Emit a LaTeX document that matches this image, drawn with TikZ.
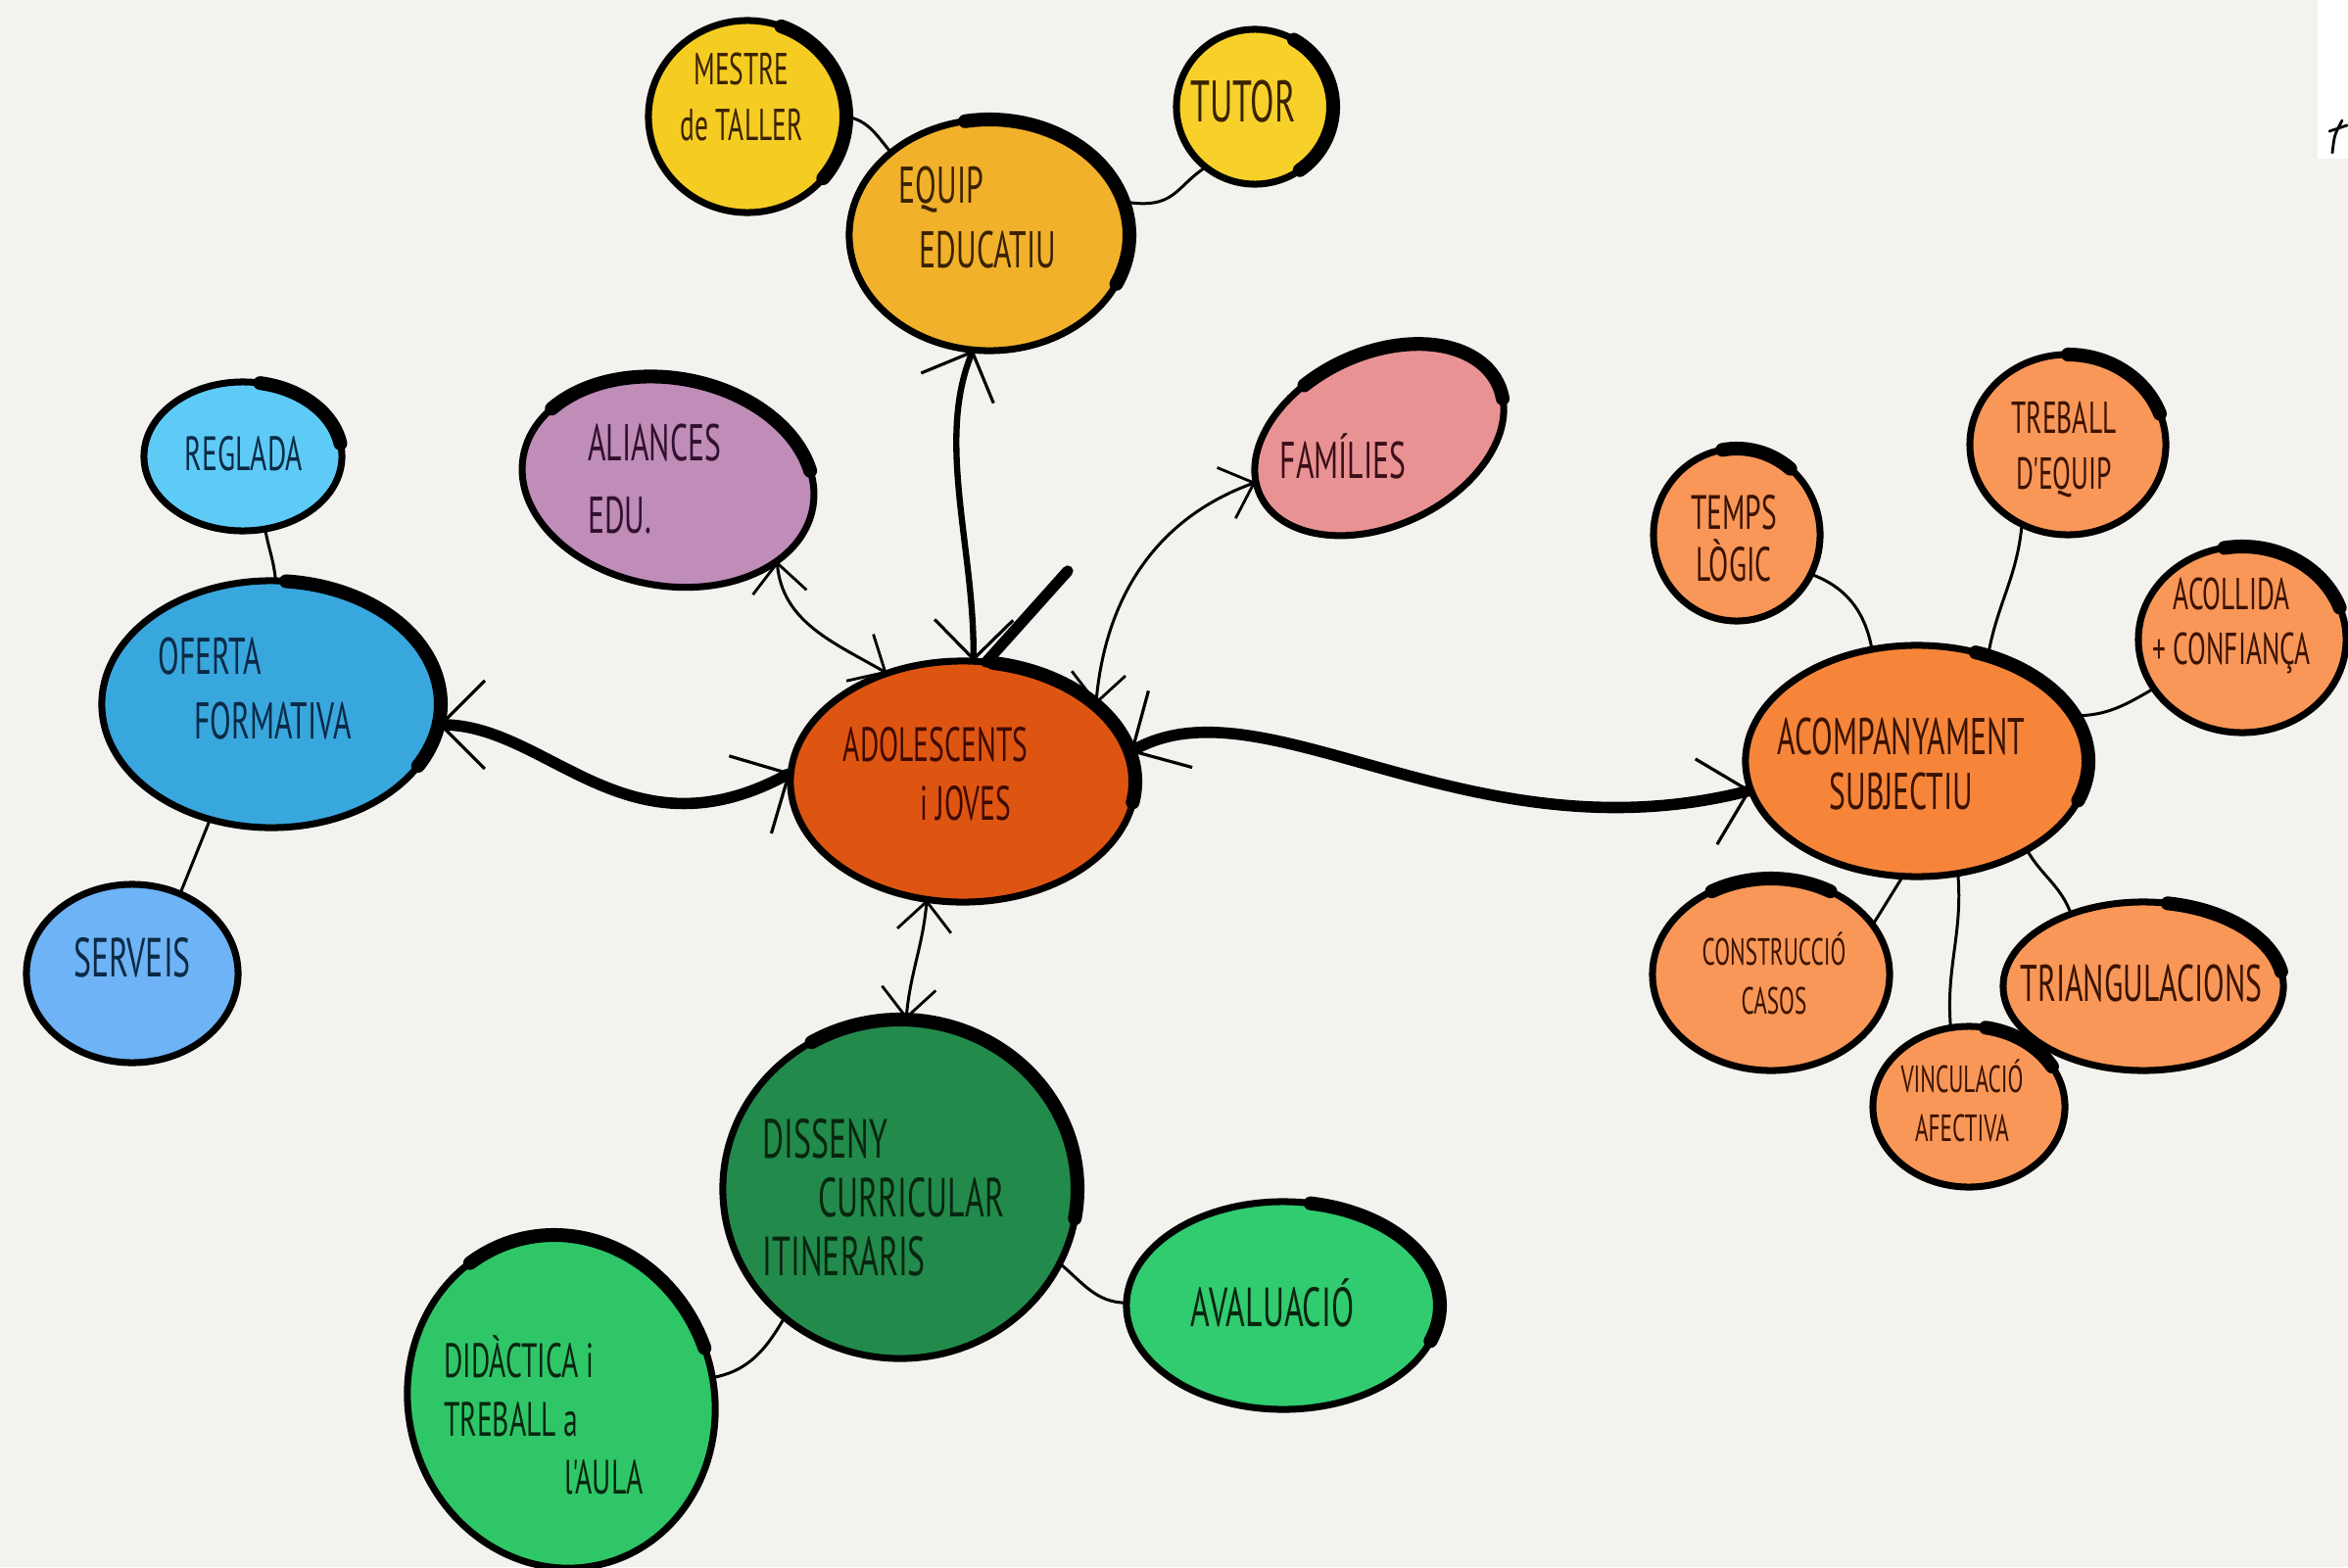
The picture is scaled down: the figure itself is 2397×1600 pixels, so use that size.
\documentclass[tikz,border=0pt]{standalone}
\usepackage{fontspec}
\newfontfamily\hand[FakeStretch=0.6]{PT Sans}
\usetikzlibrary{arrows.meta,shapes.geometric}
\definecolor{bg}{HTML}{F3F2EE}
\definecolor{cMestre}{HTML}{F5CC22}
\definecolor{cEquip}{HTML}{F2B12B}
\definecolor{cTutor}{HTML}{F7D12A}
\definecolor{cAlian}{HTML}{C08CB8}
\definecolor{cFam}{HTML}{E99294}
\definecolor{cRegl}{HTML}{5ECBF7}
\definecolor{cOfer}{HTML}{38A7DE}
\definecolor{cServ}{HTML}{6DB3F5}
\definecolor{cAdol}{HTML}{DE5512}
\definecolor{cDiss}{HTML}{228A4B}
\definecolor{cDidac}{HTML}{2FC668}
\definecolor{cAval}{HTML}{31CB70}
\definecolor{cAcomp}{HTML}{F6853A}
\definecolor{cSmall}{HTML}{F99758}
\definecolor{tYel}{HTML}{3A2200}
\definecolor{tPur}{HTML}{30102E}
\definecolor{tPink}{HTML}{3A0F16}
\definecolor{tBlue}{HTML}{0B2A45}
\definecolor{tAdol}{HTML}{3E0A00}
\definecolor{tGreen}{HTML}{08260F}
\definecolor{tOr}{HTML}{3A1300}
\newcommand{\blobarc}[6]{\begin{scope}[shift={(#1.center)},rotate=#2]\draw[accentline] (#5:#3 and #4) arc[start angle=#5,end angle=#6,x radius=#3,y radius=#4];\end{scope}}
\begin{document}
\begin{tikzpicture}[x=0.01cm,y=0.01cm,
  blob/.style={ellipse, draw=black, line width=2pt, inner sep=0pt, outer sep=0pt},
  accentline/.style={line width=4pt, line cap=round, black},
  lbl/.style 2 args={font=\hand\fontsize{#1}{#2}\selectfont, align=center, inner sep=0pt},
  link/.style={line width=0.85pt, black},
  biglink/.style={line width=3.3pt, line cap=round, black, arrows={Straight Barb[length=4.5mm,width=9mm,line width=0.9pt]-Straight Barb[length=4.5mm,width=9mm,line width=0.9pt]}},
  midlink/.style={line width=1.8pt, line cap=round, black, arrows={Straight Barb[length=4mm,width=8mm,line width=0.9pt]-Straight Barb[length=4mm,width=8mm,line width=0.9pt]}},
  thinarrow/.style={line width=0.85pt, black, arrows={Straight Barb[length=3mm,width=5.5mm,line width=0.8pt]-Straight Barb[length=3mm,width=5.5mm,line width=0.8pt]}},
]
\fill[bg] (0,0) rectangle (2397,-1600);
\useasboundingbox (0,0) rectangle (2397,-1600);
% corner
\fill[white] (2366,0) rectangle (2397,-162);
\draw[line width=0.8pt,line cap=round] (2378,-134) -- (2396,-128);
\draw[line width=0.8pt,line cap=round] (2391,-123) .. controls (2383,-138) .. (2381,-156);

% nodes
\node[blob, fill=cMestre, minimum width=2.02cm, minimum height=1.96cm] (mestre) at (763,-119) {};
\node[blob, fill=cEquip, minimum width=2.86cm, minimum height=2.36cm] (equip) at (1010,-240) {};
\node[blob, fill=cTutor, minimum width=1.60cm, minimum height=1.58cm] (tutor) at (1281,-109) {};
\node[blob, fill=cAlian, minimum width=3.00cm, minimum height=2.12cm, rotate=-10] (alian) at (682,-492) {};
\node[blob, fill=cFam, minimum width=2.68cm, minimum height=1.76cm, rotate=25] (fam) at (1408,-449) {};
\node[blob, fill=cRegl, minimum width=2.02cm, minimum height=1.52cm] (regl) at (248,-466) {};
\node[blob, fill=cOfer, minimum width=3.46cm, minimum height=2.52cm] (ofer) at (277,-719) {};
\node[blob, fill=cServ, minimum width=2.16cm, minimum height=1.82cm] (serv) at (135,-994) {};
\node[blob, fill=cAdol, minimum width=3.52cm, minimum height=2.46cm] (adol) at (983,-798) {};
\node[blob, fill=cDiss, minimum width=3.62cm, minimum height=3.46cm] (diss) at (919,-1214) {};
\node[blob, fill=cDidac, minimum width=3.42cm, minimum height=3.12cm, rotate=-75] (didac) at (573,-1431) {};
\node[blob, fill=cAval, minimum width=3.20cm, minimum height=2.12cm] (aval) at (1310,-1333) {};
\node[blob, fill=cAcomp, minimum width=3.50cm, minimum height=2.36cm] (acomp) at (1957,-777) {};
\node[blob, fill=cSmall, minimum width=1.70cm, minimum height=1.76cm] (temps) at (1773,-546) {};
\node[blob, fill=cSmall, minimum width=2.00cm, minimum height=1.84cm] (treb) at (2111,-454) {};
\node[blob, fill=cSmall, minimum width=2.12cm, minimum height=1.90cm] (acoll) at (2289,-653) {};
\node[blob, fill=cSmall, minimum width=2.42cm, minimum height=1.96cm] (constr) at (1808,-995) {};
\node[blob, fill=cSmall, minimum width=1.96cm, minimum height=1.64cm] (vinc) at (2010,-1130) {};
\node[blob, fill=cSmall, minimum width=2.86cm, minimum height=1.72cm] (triang) at (2188,-1007) {};

% accent arcs
\blobarc{mestre}{0}{101}{98}{70}{-40}
\blobarc{equip}{0}{143}{118}{100}{-25}
\blobarc{tutor}{0}{80}{79}{60}{-55}
\blobarc{alian}{-10}{150}{106}{150}{20}
\blobarc{fam}{25}{134}{88}{110}{-10}
\blobarc{regl}{0}{101}{76}{80}{10}
\blobarc{ofer}{0}{173}{126}{85}{-30}
\blobarc{adol}{0}{176}{123}{80}{-10}
\blobarc{diss}{0}{181}{173}{120}{-10}
\blobarc{didac}{-75}{171}{156}{200}{95}
\blobarc{aval}{0}{160}{106}{80}{-20}
\blobarc{acomp}{0}{175}{118}{70}{-20}
\blobarc{temps}{0}{85}{88}{100}{50}
\blobarc{treb}{0}{100}{92}{90}{20}
\blobarc{acoll}{0}{106}{95}{100}{20}
\blobarc{constr}{0}{121}{98}{120}{60}
\blobarc{vinc}{0}{98}{82}{80}{30}
\blobarc{triang}{0}{143}{86}{80}{10}

% thin links
\draw[link] (mestre.0) to[out=-10,in=130] (equip.140);
\draw[link] (equip.14) .. controls (1200,-215) and (1200,-190) .. (tutor.231);
\draw[link] (regl.-73) to[out=-80,in=95] (ofer.88);
\draw[link] (ofer.-118) -- (serv.59);
\draw[link] (diss.228) to[out=-120,in=10] (didac.84);
\draw[link] (diss.-25) to[out=-40,in=180] (aval.179);
\draw[link] (temps.-28) to[out=-20,in=100] (acomp.112);
\draw[link] (treb.-120) to[out=-95,in=80] (acomp.56);
\draw[link] (acomp.16) to[out=0,in=210] (acoll.209);
\draw[link] (acomp.-97) -- (constr.26);
\draw[link] (acomp.-70) to[out=-85,in=95] (vinc.103);
\draw[link] (acomp.-39) to[out=-60,in=110] (triang.135);

% arrows
\draw[midlink] (equip.-98) .. controls (955,-450) and (995,-560) .. (adol.85);
\coordinate (stk) at (1090,-583);
\draw[line width=3.2pt, line cap=round] (adol.79) -- (stk);
\draw[thinarrow] (alian.-26) to[out=-85,in=150] (adol.125);
\draw[thinarrow] (fam.174) to[out=200,in=85] (adol.30);
\draw[biglink] (ofer.-7) .. controls (560,-740) and (640,-880) .. (adol.177);
\draw[biglink] (adol.10) .. controls (1290,-690) and (1500,-880) .. (acomp.190);
\draw[thinarrow] (adol.-107) to[out=-95,in=85] (diss.88);

% labels
\node[lbl={13}{16}, text=tYel] at ([shift={(-6,20)}]mestre.center) {MESTRE\\de TALLER};
\node[lbl={15}{19}, text=tYel, align=left] at ([shift={(-12,18)}]equip.center) {EQUIP\\\hspace*{0.4em}EDUCATIU};
\node[lbl={17}{20}, text=tYel] at ([shift={(-12,5)}]tutor.center) {TUTOR};
\node[lbl={15}{21}, text=tPur, align=left] at ([shift={(-14,3)}]alian.center) {ALIANCES\\EDU.};
\node[lbl={15}{18}, text=tPink] at ([shift={(-37,-17)}]fam.center) {FAMÍLIES};
\node[lbl={14}{17}, text=tBlue] at ([shift={(1,3)}]regl.center) {REGLADA};
\node[lbl={15}{19}, text=tBlue, align=left] at ([shift={(-17,16)}]ofer.center) {OFERTA\\\hspace*{0.7em}FORMATIVA};
\node[lbl={16}{19}, text=tBlue] at ([shift={(0,16)}]serv.center) {SERVEIS};
\node[lbl={14}{17}, text=tAdol, align=left] at ([shift={(-28,8)}]adol.center) {ADOLESCENTS\\\hspace*{1.6em}i JOVES};
\node[lbl={16}{17}, text=tGreen, align=left] at ([shift={(-17,-9)}]diss.center) {DISSENY\\\hspace*{1em}CURRICULAR\\ITINERARIS};
\node[lbl={14}{17}, text=tGreen, align=left] at ([shift={(-18,-14)}]didac.center) {DIDÀCTICA i\\TREBALL a\\\hspace*{2.5em}l'AULA};
\node[lbl={16}{19}, text=tGreen] at ([shift={(-11,3)}]aval.center) {AVALUACIÓ};
\node[lbl={15}{16}, text=tOr] at ([shift={(-16,-3)}]acomp.center) {ACOMPANYAMENT\\SUBJECTIU};
\node[lbl={14}{15}, text=tOr] at ([shift={(-3,-4)}]temps.center) {TEMPS\\LÒGIC};
\node[lbl={13}{16}, text=tOr] at ([shift={(-4,-5)}]treb.center) {TREBALL\\D'EQUIP};
\node[lbl={13}{16}, text=tOr] at ([shift={(-11,14)}]acoll.center) {ACOLLIDA\\+ CONFIANÇA};
\node[lbl={11}{14}, text=tOr] at ([shift={(3,1)}]constr.center) {CONSTRUCCIÓ\\CASOS};
\node[lbl={11}{14}, text=tOr] at ([shift={(-7,6)}]vinc.center) {VINCULACIÓ\\AFECTIVA};
\node[lbl={15}{18}, text=tOr] at ([shift={(-2,3)}]triang.center) {TRIANGULACIONS};
\end{tikzpicture}
\end{document}
